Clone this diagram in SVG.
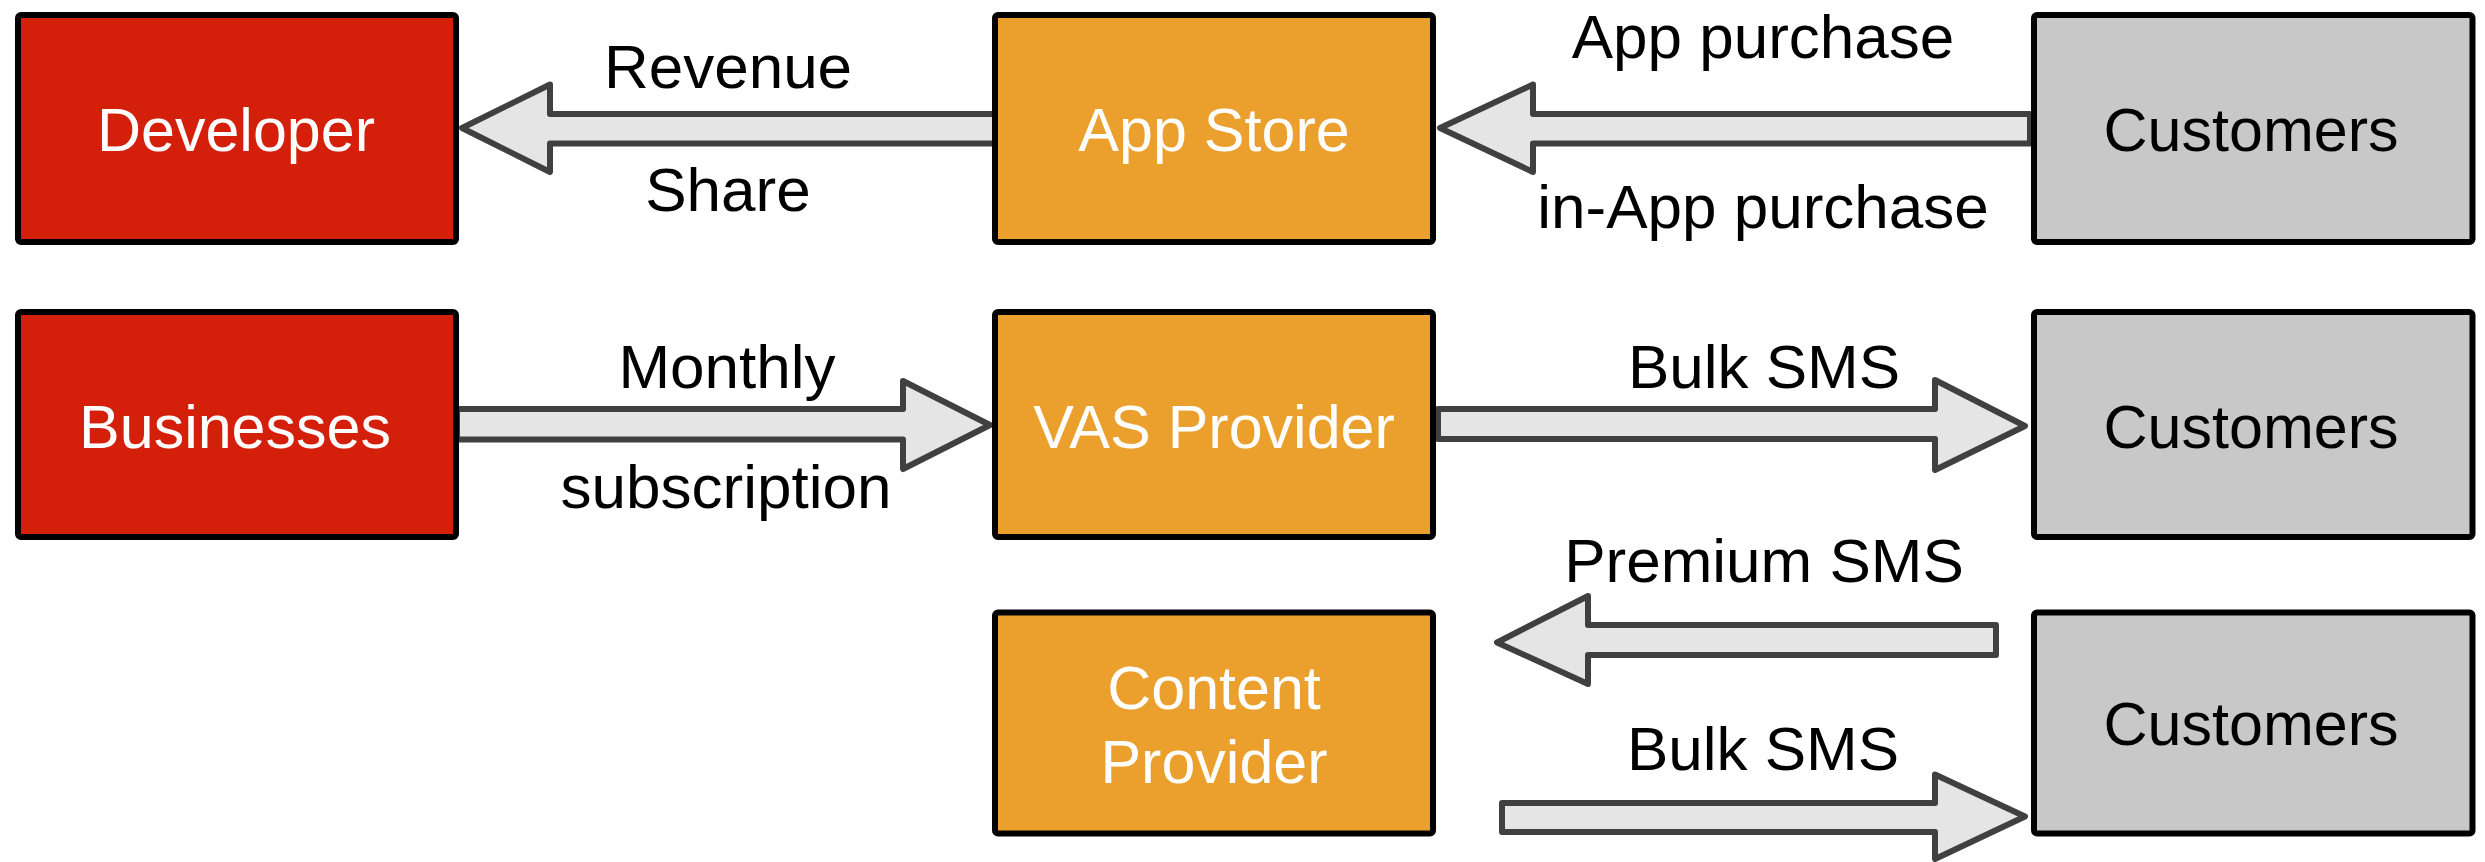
<svg xmlns="http://www.w3.org/2000/svg" width="2485" height="862" viewBox="0 0 2485 862">
<style>
.box{stroke:#000;stroke-width:6;}
.red{fill:#D41F0B;}
.org{fill:#EBA02E;}
.gry{fill:#C8C8C8;}
.arr{fill:#E5E5E5;stroke:#404040;stroke-width:6;stroke-linejoin:round;}
text{font-family:"Liberation Sans",Arial,Helvetica,sans-serif;font-size:61px;text-anchor:middle;}
.lbl{font-size:62px;}
.w{fill:#fff;}
.k{fill:#000;}
</style>
<rect width="2485" height="862" fill="#fff"/>
<g id="connectors">
<path class="arr" d="M995 114 L550 114 L550 84.5 L462 128 L550 172 L550 143.5 L995 143.5 Z"/>
<path class="arr" d="M2030 114 L1533 114 L1533 84.5 L1440 128 L1533 172 L1533 143.5 L2030 143.5 Z"/>
<path class="arr" d="M457 409 L903 409 L903 381 L990 425 L903 469 L903 439.5 L457 439.5 Z"/>
<path class="arr" d="M1438 409 L1935 409 L1935 380 L2025 426 L1935 470 L1935 439 L1438 439 Z"/>
<path class="arr" d="M1996 625 L1588 625 L1588 596 L1497 642.5 L1588 684 L1588 655 L1996 655 Z"/>
<path class="arr" d="M1502 803 L1935 803 L1935 774.5 L2025 816.5 L1935 859 L1935 832 L1502 832 Z"/>
<text class="k lbl" x="728" y="88">Revenue</text>
<text class="k lbl" x="728" y="211">Share</text>
<text class="k lbl" x="1763" y="58">App purchase</text>
<text class="k lbl" x="1763" y="228">in-App purchase</text>
<text class="k lbl" x="727" y="388">Monthly</text>
<text class="k lbl" x="726" y="508">subscription</text>
<text class="k lbl" x="1764" y="388">Bulk SMS</text>
<text class="k lbl" x="1764" y="582">Premium SMS</text>
<text class="k lbl" x="1763" y="770">Bulk SMS</text>
</g>
<g id="developer"><rect class="box red" x="18" y="15" width="438" height="227" rx="3"/><text class="w" x="236" y="151">Developer</text></g>
<g id="app-store"><rect class="box org" x="995" y="15" width="438" height="227" rx="3"/><text class="w" x="1214" y="151">App Store</text></g>
<g id="customers-1"><rect class="box gry" x="2034" y="15" width="438.5" height="227" rx="3"/><text class="k" x="2251" y="151">Customers</text></g>
<g id="businesses"><rect class="box red" x="18" y="312" width="438" height="225" rx="3"/><text class="w" x="235" y="448">Businesses</text></g>
<g id="vas-provider"><rect class="box org" x="995" y="312" width="438" height="225" rx="3"/><text class="w" x="1214" y="448">VAS Provider</text></g>
<g id="customers-2"><rect class="box gry" x="2034" y="312" width="438.5" height="225" rx="3"/><text class="k" x="2251" y="448">Customers</text></g>
<g id="content-provider"><rect class="box org" x="995" y="612.5" width="438" height="221" rx="3"/><text class="w" x="1214" y="709">Content</text><text class="w" x="1214" y="783">Provider</text></g>
<g id="customers-3"><rect class="box gry" x="2034" y="612.5" width="438.5" height="221" rx="3"/><text class="k" x="2251" y="745">Customers</text></g>
</svg>
